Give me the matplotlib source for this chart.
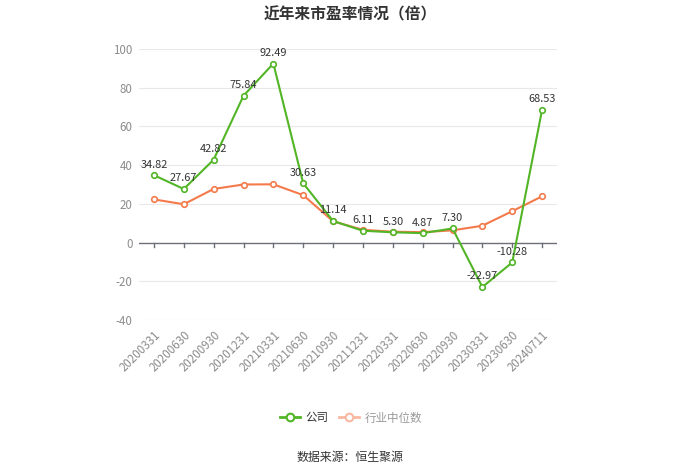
import matplotlib
matplotlib.use("Agg")
import matplotlib.pyplot as plt
from matplotlib.lines import Line2D

plt.rcParams['font.family'] = ['Noto Sans CJK SC', 'DejaVu Sans']

categories = ["20200331", "20200630", "20200930", "20201231", "20210331", "20210630",
              "20210930", "20211231", "20220331", "20220630", "20220930", "20230331",
              "20230630", "20240711"]
company = [34.82, 27.67, 42.82, 75.84, 92.49, 30.63, 11.14, 6.11, 5.30, 4.87, 7.30,
           -22.97, -10.28, 68.53]
industry = [22.3, 19.8, 27.7, 30.0, 30.1, 24.5, 11.0, 6.6, 5.6, 5.4, 6.3, 8.7, 16.2, 23.9]
yticks = [-40, -20, 0, 20, 40, 60, 80, 100]

green = '#52b526'
orange = '#f47a4c'

fig = plt.figure(figsize=(7, 4.74), dpi=100)
ax = fig.add_axes([139/700, 1-320/474, (557-139)/700, (320-49)/474])

x = list(range(len(categories)))
ax.set_xlim(-0.5, len(categories) - 0.5)
ax.set_ylim(-40, 100)

for yv in yticks:
    if yv != 0:
        ax.axhline(yv, color='#e8e8e8', lw=0.8, zorder=0)
ax.axhline(0, color='#6e7079', lw=1, zorder=1)
for xi in x:
    ax.plot([xi, xi], [0, -2.2], color='#6e7079', lw=1, zorder=1, clip_on=False)

ax.plot(x, industry, color=orange, lw=1.5, marker='o', markersize=4,
        markerfacecolor='white', markeredgecolor=orange, markeredgewidth=1.2, zorder=3)
ax.plot(x, company, color=green, lw=1.5, marker='o', markersize=4,
        markerfacecolor='white', markeredgecolor=green, markeredgewidth=1.2, zorder=4)

for xi, v in zip(x, company):
    ax.annotate(f"{v:.2f}", (xi, v), xytext=(0, 4), textcoords='offset points',
                ha='center', va='bottom', fontsize=7.9, color='#333333', zorder=5)

for s in ax.spines.values():
    s.set_visible(False)
ax.set_yticks(yticks)
ax.set_yticklabels([str(v) for v in yticks], fontsize=8.3, color='#8c8c8c')
ax.tick_params(axis='y', length=0, pad=4.5)
ax.set_xticks(x)
ax.set_xticklabels(categories, rotation=45, ha='right', rotation_mode='anchor',
                   fontsize=8.3, color='#8c8c8c')
ax.tick_params(axis='x', length=0, pad=6)

fig.text(0.5, 1-14/474, "近年来市盈率情况（倍）", ha='center', va='center',
         fontsize=11.3, fontweight='bold', color='#333333')

handles = [
    Line2D([0], [0], color=green, lw=2, marker='o', markersize=5.5,
           markerfacecolor='white', markeredgecolor=green, markeredgewidth=1.5),
    Line2D([0], [0], color='#f8b9a0', lw=2, marker='o', markersize=5.5,
           markerfacecolor='white', markeredgecolor='#f8b9a0', markeredgewidth=1.5),
]
leg = fig.legend(handles, ["公司", "行业中位数"], loc='center', bbox_to_anchor=(351/700, 1-418/474),
                 ncol=2, frameon=False, fontsize=8.3, handlelength=1.7, columnspacing=0.9,
                 handletextpad=0.5, borderpad=0, borderaxespad=0)
leg.get_texts()[0].set_color('#333333')
leg.get_texts()[1].set_color('#999999')

fig.text(0.5, 1-458/474, "数据来源：恒生聚源", ha='center', va='center',
         fontsize=8.6, color='#333333')

fig.savefig("out.png", dpi=100)
